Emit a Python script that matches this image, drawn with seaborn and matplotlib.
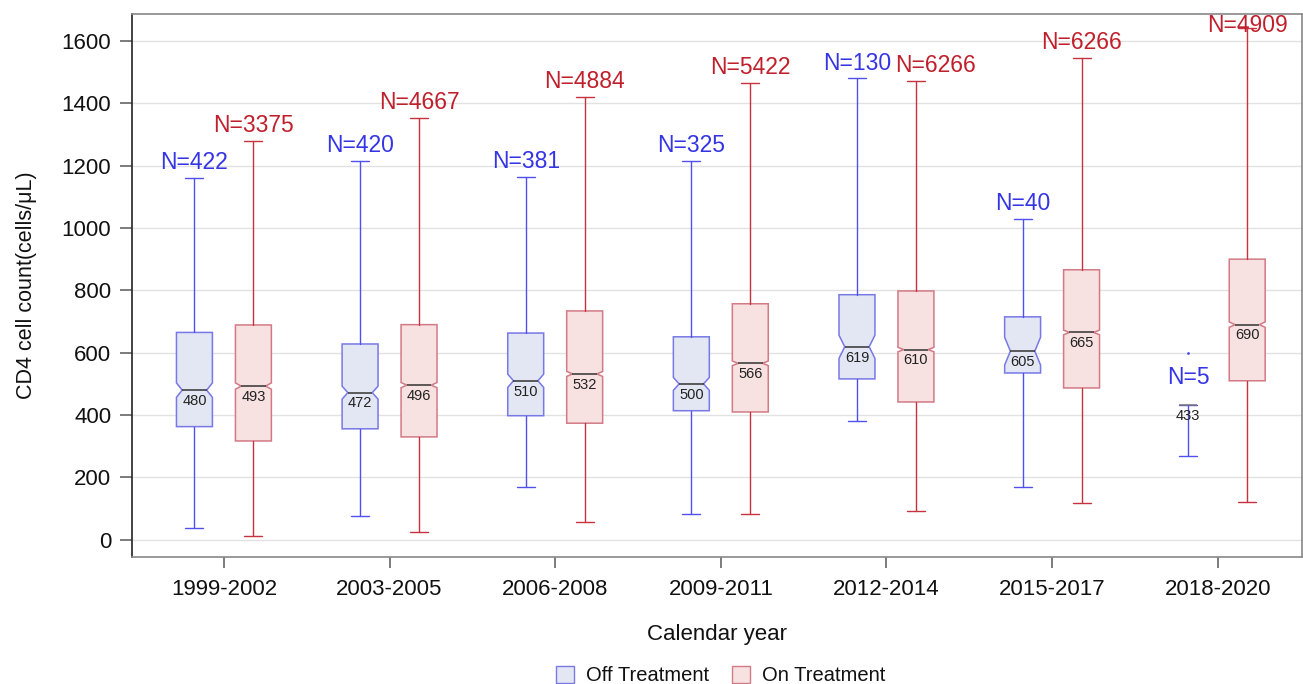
import numpy as np
import matplotlib
matplotlib.use("Agg")
import matplotlib.pyplot as plt
from matplotlib.patches import Patch
from matplotlib.path import Path
import seaborn as sns

# ---- data ----
years = ["1999-2002", "2003-2005", "2006-2008", "2009-2011",
         "2012-2014", "2015-2017", "2018-2020"]

off_n = [422, 420, 381, 325, 130, 40, 5]
off_low = [38, 78, 168, 83, 380, 168, 270]
off_q1 = [363, 356, 398, 414, 516, 535, 433]
off_med = [480, 472, 510, 500, 619, 605, 433]
off_q3 = [665, 628, 663, 651, 786, 715, 433]
off_high = [1161, 1215, 1165, 1215, 1480, 1029, 433]
off_fliers = [[], [], [], [], [], [], [600]]

on_n = [3375, 4667, 4884, 5422, 6266, 6266, 4909]
on_low = [13, 25, 58, 83, 92, 118, 120]
on_q1 = [317, 330, 374, 410, 442, 487, 510]
on_med = [493, 496, 532, 566, 610, 665, 690]
on_q3 = [689, 690, 734, 757, 798, 866, 900]
on_high = [1279, 1352, 1420, 1465, 1472, 1545, 1640]

OFF_FACE, OFF_EDGE, OFF_LINE, OFF_TXT = "#e3e7f3", "#7878e6", "#5050f0", "#3535e6"
ON_FACE, ON_EDGE, ON_LINE, ON_TXT = "#f7e1e1", "#d27a86", "#c8323e", "#c0202c"

sns.set_theme(style="white")
plt.rcParams["font.family"] = ["Liberation Sans", "DejaVu Sans"]


def make_stats(low, q1, med, q3, high, n, fliers=None):
    stats = []
    for i in range(len(med)):
        ci = 1.57 * (q3[i] - q1[i]) / np.sqrt(n[i])
        stats.append({
            "whislo": low[i], "q1": q1[i], "med": med[i], "q3": q3[i],
            "whishi": high[i], "cilo": med[i] - ci, "cihi": med[i] + ci,
            "fliers": fliers[i] if fliers else [],
        })
    return stats


fig, ax = plt.subplots(figsize=(13.03, 6.84), dpi=100)
fig.subplots_adjust(left=0.1013, right=0.999, bottom=0.1857, top=0.9795)

x = np.arange(len(years))
offset = 0.178
width = 0.217

groups = [
    (make_stats(off_low, off_q1, off_med, off_q3, off_high, off_n, off_fliers),
     x - offset, off_n, off_high, off_med, OFF_FACE, OFF_EDGE, OFF_LINE, OFF_TXT),
    (make_stats(on_low, on_q1, on_med, on_q3, on_high, on_n),
     x + offset, on_n, on_high, on_med, ON_FACE, ON_EDGE, ON_LINE, ON_TXT),
]

for k, (stats, pos, n, high, med, face, edge, line, txt) in enumerate(groups):
    art = ax.bxp(
        stats, positions=pos, widths=width, shownotches=True, patch_artist=True,
        manage_ticks=False,
        boxprops=dict(facecolor=face, edgecolor=edge, linewidth=1.1),
        whiskerprops=dict(color=line, linewidth=1.0),
        capprops=dict(color=line, linewidth=1.0),
        medianprops=dict(color="#333333", linewidth=1.1),
        flierprops=dict(marker=".", markersize=2, markerfacecolor=line,
                        markeredgecolor=line),
    )
    for i, (box, mline) in enumerate(zip(art["boxes"], art["medians"])):
        if n[i] < 10:
            box.set_visible(False)
            mline.set_color("#777777")
            continue
        # shallower notch than matplotlib's default
        v = np.array(box.get_path().vertices, dtype=float)
        v[3, 0] = pos[i] + width * 0.34
        v[8, 0] = pos[i] - width * 0.34
        box.set_path(Path(v, closed=True))
        mline.set_xdata([pos[i] - width * 0.34, pos[i] + width * 0.34])
    for i in range(len(pos)):
        ax.text(pos[i], med[i] - 12, f"{med[i]}", ha="center", va="top",
                fontsize=10.5, color="#222222")
        # keep N labels inside the frame and away from the neighbour label
        ty = min(high[i] + 12, 1612)
        if n[i] < 10:
            ty = high[i] + 52
        tx = pos[i]
        if k == 1 and abs(off_high[i] - on_high[i]) < 80:
            tx += 0.12
        ax.text(tx, ty, f"N={n[i]}", ha="center", va="bottom",
                fontsize=16.5, color=txt)

ax.set_xlim(-0.555, 6.507)
ax.set_ylim(-55, 1686)
ax.set_xticks(x)
ax.set_xticklabels(years)
ax.set_yticks(np.arange(0, 1601, 200))
ax.yaxis.grid(True, color="#e2e2e2", linewidth=1)
ax.xaxis.grid(False)
ax.set_axisbelow(True)

ax.tick_params(axis="y", length=9, width=1.2, color="#666666", pad=6,
               labelsize=16, left=True, labelcolor="#111111")
ax.tick_params(axis="x", length=8, width=1.2, color="#666666", pad=8,
               labelsize=16, bottom=True, labelcolor="#111111")
ax.spines["left"].set_color("#222222")
for s in ["bottom", "top", "right"]:
    ax.spines[s].set_color("#888888")
for s in ax.spines.values():
    s.set_linewidth(1.2)

ax.set_xlabel("Calendar year", fontsize=16, labelpad=17, color="#111111")
ax.set_ylabel("CD4 cell count(cells/\u03bcL)", fontsize=15.5, labelpad=18,
              color="#111111")

handles = [
    Patch(facecolor=OFF_FACE, edgecolor=OFF_EDGE, label="Off Treatment"),
    Patch(facecolor=ON_FACE, edgecolor=ON_EDGE, label="On Treatment"),
]
fig.legend(handles=handles, loc="center", bbox_to_anchor=(0.553, 0.012),
           ncol=2, frameon=False, fontsize=14.5, handlelength=0.9,
           handleheight=0.9, columnspacing=1.1, handletextpad=0.6,
           labelcolor="#111111")

fig.savefig("out.png", dpi=100)
